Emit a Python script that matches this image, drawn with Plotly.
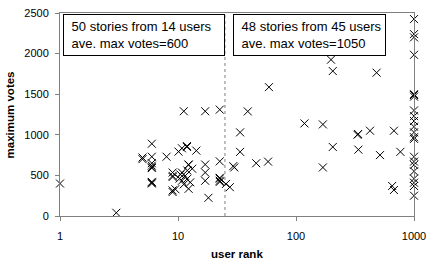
import plotly.graph_objects as go

# user rank (x) and maximum votes (y) for each story
rank_low = [1, 3, 5, 5, 6, 6, 6, 6, 6, 6, 6, 6, 8, 9, 9, 9, 9, 9,
            10.1, 10.5, 10.8, 10.8, 10.8, 11.2, 11.5, 11.9, 11.9, 11.9, 12.3, 12.3,
            12.7, 12.3, 13.2, 14.3, 11.2, 17, 17, 17, 17, 18.1, 22.6, 22.6,
            22.6, 22.6, 22.6, 22.6, 12, 10.3, 9.5, 6]
votes_low = [400, 40, 700, 720, 890, 730, 650, 620, 600, 420, 400, 410, 730, 535, 494, 315, 295, 480,
             793, 510, 834, 535, 434, 1290, 494, 861, 454, 850, 634, 630,
             415, 335, 582, 805, 390, 634, 535, 434, 1290, 224, 673, 1310,
             434, 420, 460, 470, 560, 460, 330, 590]

rank_high = [25.5, 27.5, 29.4, 30, 33.6, 33.6, 39, 46, 58, 59, 118, 169, 169,
             198, 205, 205, 332, 336, 338, 424, 482, 515, 653, 676, 676, 767,
             1000, 1000, 1000, 1000, 1000, 1000, 1000, 1000, 1000, 1000, 1000,
             1000, 1000, 1000, 1000, 1000, 1000, 1000, 1000, 1000, 1000, 1000]
votes_high = [395, 355, 614, 598, 1030, 790, 1288, 650, 670, 1587, 1140, 1128, 598,
              1925, 1785, 850, 1000, 1010, 817, 1050, 1765, 750, 370, 320, 1050, 790,
              2425, 2240, 2200, 1985, 1500, 1470, 1300, 1230, 1170, 1100, 1030,
              970, 950, 730, 670, 630, 550, 460, 410, 370, 250, 1490]

split_rank = [25, 25]
split_votes = [0, 2500]

y_ticks = [0, 500, 1000, 1500, 2000, 2500]
x_ticks = [1, 10, 100, 1000]
x_ticklabels = ["1", "10", "100", "1000"]

x_title = "user rank"
y_title = "maximum votes"

box_texts = ["&nbsp;50 stories from 14 users<br>&nbsp;ave. max votes=600",
             "&nbsp;48 stories from 45 users<br>&nbsp;ave. max votes=1050"]

FONT = "Liberation Sans, Arial, sans-serif"

fig = go.Figure()
fig.add_trace(go.Scatter(x=split_rank, y=split_votes, mode="lines",
                         line=dict(color="#808080", width=1, dash="dot"),
                         hoverinfo="skip", showlegend=False))
marker = dict(symbol="x-thin-open", size=8, color="black",
              line=dict(color="black", width=1))
fig.add_trace(go.Scatter(x=rank_low, y=votes_low, mode="markers", marker=marker,
                         showlegend=False, cliponaxis=False))
fig.add_trace(go.Scatter(x=rank_high, y=votes_high, mode="markers", marker=marker,
                         showlegend=False, cliponaxis=False))

fig.update_layout(
    width=433, height=263,
    margin=dict(l=60, r=16, t=7, b=47),
    paper_bgcolor="white", plot_bgcolor="white",
    font=dict(family=FONT, size=11, color="black"),
    showlegend=False,
)
fig.update_xaxes(type="log", range=[0, 3], tickvals=x_ticks, ticktext=x_ticklabels,
                 showgrid=False, zeroline=False, showline=True, linecolor="#808080",
                 linewidth=1, mirror=True, ticks="outside", ticklen=4, tickcolor="#808080",
                 ticklabelstandoff=6)
fig.update_yaxes(range=[0, 2500], tickvals=y_ticks,
                 showgrid=False, zeroline=False, showline=True, linecolor="#808080",
                 linewidth=1, mirror=True, ticks="outside", ticklen=4, tickcolor="#808080",
                 ticklabelstandoff=4)

# paper coords: plot spans x 60..417, y 7..216
def px_x(p):
    return (p - 60) / 357.0

def px_y(p):
    return (216 - p) / 209.0

fig.add_annotation(x=px_x(238.5), y=px_y(255), xref="paper", yref="paper",
                   xanchor="center", yanchor="middle", text="<b>" + x_title + "</b>",
                   showarrow=False, font=dict(size=11.5, family=FONT))
fig.add_annotation(x=px_x(9.5), y=px_y(111.5), xref="paper", yref="paper",
                   xanchor="center", yanchor="middle", text="<b>" + y_title + "</b>",
                   textangle=-90, showarrow=False, font=dict(size=11.5, family=FONT))

fig.add_annotation(x=px_x(63), y=px_y(8.5), xref="paper", yref="paper",
                   xanchor="left", yanchor="top", text=box_texts[0], showarrow=False,
                   align="left", font=dict(size=13, family=FONT),
                   bordercolor="black", borderwidth=1, borderpad=4, bgcolor="white",
                   width=152, height=32)
fig.add_annotation(x=px_x(234), y=px_y(8.5), xref="paper", yref="paper",
                   xanchor="left", yanchor="top", text=box_texts[1], showarrow=False,
                   align="left", font=dict(size=13, family=FONT),
                   bordercolor="black", borderwidth=1, borderpad=4, bgcolor="white",
                   width=143, height=32)

fig.write_html("out.html", config={"displayModeBar": False},
               post_script="document.body.style.margin='0px';document.body.style.overflow='hidden';")
